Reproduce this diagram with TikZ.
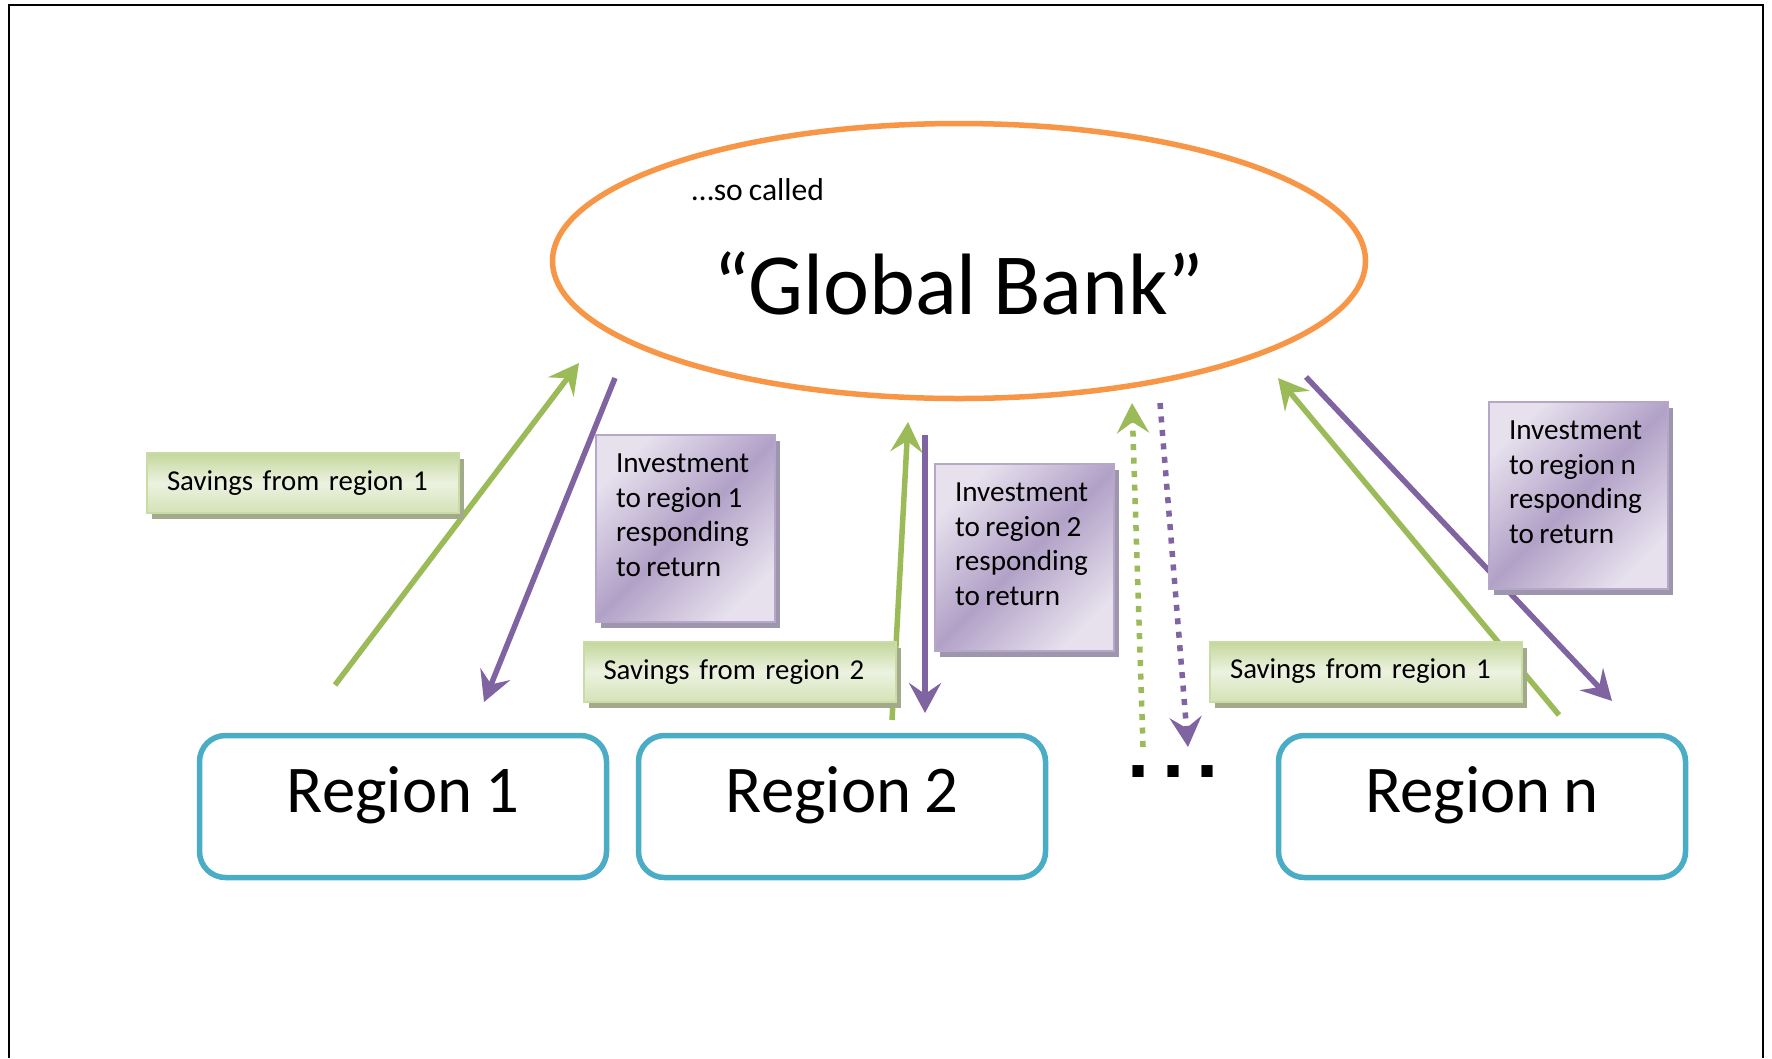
\documentclass[tikz,border=0pt]{standalone}
\usepackage{fontspec}
\setmainfont[WordSpace=0.85]{Carlito}
\newfontfamily\dotsfont{DejaVu Sans}
\usetikzlibrary{shapes.geometric,arrows.meta,shadows}

\definecolor{bankorange}{RGB}{247,150,70}
\definecolor{regionblue}{RGB}{75,172,198}
\definecolor{savgreen}{RGB}{155,187,89}
\definecolor{invpurple}{RGB}{128,100,162}
\definecolor{savdark}{RGB}{196,215,156}
\definecolor{savlight}{RGB}{236,242,224}
\definecolor{savedge}{RGB}{202,220,166}
\definecolor{savshade}{RGB}{163,170,140}
\definecolor{invdark}{RGB}{178,161,199}
\definecolor{invlight}{RGB}{230,225,237}
\definecolor{invedge}{RGB}{182,166,202}
\definecolor{invshade}{RGB}{158,150,172}

\newcommand{\invtext}[1]{\parbox[t][14.9mm][t]{13.9mm}{#1}}

\begin{document}
\begin{tikzpicture}[x=0.1mm,y=-0.1mm,
  region/.style={draw=regionblue,line width=0.55mm,rounded corners=2.6mm,
    minimum width=40.7mm,minimum height=14.2mm,
    font=\fontsize{19}{19}\selectfont,text height=4.6mm,text depth=3.5mm},
  savbox/.style={draw=savedge,line width=0.2mm,
    top color=savdark,bottom color=savdark!60!savlight,middle color=savlight,
    drop shadow={shadow xshift=0.5mm,shadow yshift=-0.6mm,fill=savshade,opacity=1},
    minimum width=31.2mm,minimum height=6mm,inner xsep=2mm,inner ysep=0pt,
    text width=27.2mm,align=left,font=\fontsize{8.2}{9.8}\selectfont},
  invbox/.style={draw=invedge,line width=0.2mm,
    top color=invlight,bottom color=invlight,middle color=invdark,shading angle=45,
    drop shadow={shadow xshift=0.5mm,shadow yshift=-0.6mm,fill=invshade,opacity=1},
    inner xsep=2mm,inner ysep=1.9mm,font=\fontsize{8.3}{9.8}\selectfont},
  saving/.style={draw=savgreen,line width=0.55mm,
    -{Stealth[length=3mm,width=3.2mm,inset=1.1mm]}},
  investing/.style={draw=invpurple,line width=0.55mm,
    -{Stealth[length=3mm,width=3.2mm,inset=1.1mm]}},
  sparse/.style={dash pattern=on 0.6mm off 0.75mm}]
  \useasboundingbox (0,0) rectangle (1772,1058);

  % page frame
  \draw[line width=0.25mm] (9,1058) -- (9,5) -- (1763,5) -- (1763,1058);

  % the bank
  \node[draw=bankorange,line width=0.55mm,ellipse,minimum width=81.3mm,
    minimum height=27.5mm,inner sep=0pt,font=\fontsize{24.8}{25}\selectfont,
    text height=10.6mm,text depth=0pt] (bank) at (959,261) {“Global Bank”};
  \node[font=\fontsize{9}{9}\selectfont,anchor=base] (socalled) at (758,200) {…so called};

  % regions
  \node[region] (reg1) at (403,806.5) {Region 1};
  \node[region] (reg2) at (842,806.5) {Region 2};
  \node[region] (regn) at (1482,806.5) {Region n};
  \node[font=\fontsize{18}{18}\dotsfont\bfseries] (dots) at (1173,772)
    {.\hspace{3.1pt}.\hspace{3.1pt}.};

  % arrow ends
  \coordinate (g1a) at (335,685);  \coordinate (g1b) at (579,363);
  \coordinate (p1a) at (615,378);  \coordinate (p1b) at (484,702);
  \coordinate (g2a) at (892,720);  \coordinate (g2b) at (908,422);
  \coordinate (p2a) at (925,435);  \coordinate (p2b) at (925,713);
  \coordinate (gda) at (1143,747); \coordinate (gdb) at (1132,403);
  \coordinate (pda) at (1160,403); \coordinate (pdb) at (1188,747);
  \coordinate (gna) at (1559,715); \coordinate (gnb) at (1278,378);
  \coordinate (pna) at (1306,377); \coordinate (pnb) at (1612,701);

  % flows between regions and bank
  \draw[saving] (g1a) -- (g1b);
  \draw[investing] (p1a) -- (p1b);
  \draw[saving] (g2a) -- (g2b);
  \draw[investing] (p2a) -- (p2b);
  \draw[saving,sparse] (gda) -- (gdb);
  \draw[investing,sparse] (pda) -- (pdb);
  \draw[saving] (gna) -- (gnb);
  \draw[investing] (pna) -- (pnb);

  % labels of the flows
  \node[savbox] (sav1) at (303,483) {Savings from region 1};
  \node[savbox] (sav2) at (739.5,672) {Savings from region 2};
  \node[savbox] (savn) at (1366,671.5) {Savings from region 1};
  \node[invbox] (inv1) at (685.5,528.5) {\invtext{Investment\\to region 1\\responding\\to return}};
  \node[invbox] (inv2) at (1024.5,557.5) {\invtext{Investment\\to region 2\\responding\\to return}};
  \node[invbox] (invn) at (1578.5,495.5) {\invtext{Investment\\to region n\\responding\\to return}};

\end{tikzpicture}
\end{document}
